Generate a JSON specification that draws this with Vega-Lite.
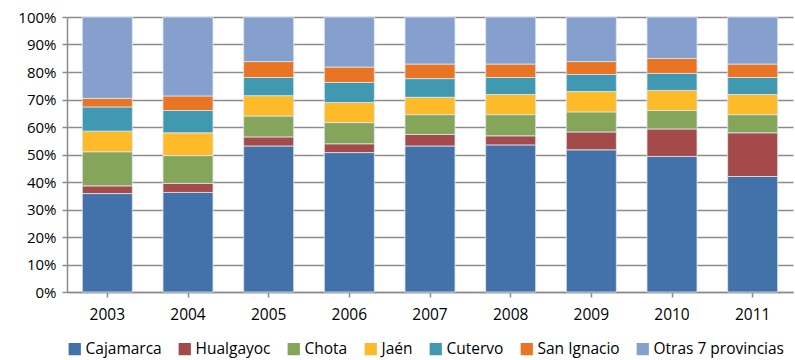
{
  "$schema": "https://vega.github.io/schema/vega-lite/v6.json",
  "width": 726,
  "height": 275,
  "autosize": {"type": "none"},
  "padding": {"left": 67, "top": 17, "right": 2, "bottom": 68},
  "background": "white",
  "config": {
    "view": {"stroke": null},
    "font": "Open Sans",
    "axis": {"labelFont": "Open Sans", "labelFontSize": 14, "labelColor": "#000"}
  },
  "data": {
    "values": [
      {"year": "2003", "provincia": "Cajamarca", "value": 35.8},
      {"year": "2003", "provincia": "Hualgayoc", "value": 2.8},
      {"year": "2003", "provincia": "Chota", "value": 12.4},
      {"year": "2003", "provincia": "Jaén", "value": 7.5},
      {"year": "2003", "provincia": "Cutervo", "value": 8.8},
      {"year": "2003", "provincia": "San Ignacio", "value": 3.1},
      {"year": "2003", "provincia": "Otras 7 provincias", "value": 29.6},
      {"year": "2004", "provincia": "Cajamarca", "value": 36.2},
      {"year": "2004", "provincia": "Hualgayoc", "value": 3.3},
      {"year": "2004", "provincia": "Chota", "value": 10.1},
      {"year": "2004", "provincia": "Jaén", "value": 8.3},
      {"year": "2004", "provincia": "Cutervo", "value": 8.1},
      {"year": "2004", "provincia": "San Ignacio", "value": 5.3},
      {"year": "2004", "provincia": "Otras 7 provincias", "value": 28.7},
      {"year": "2005", "provincia": "Cajamarca", "value": 53.1},
      {"year": "2005", "provincia": "Hualgayoc", "value": 3.3},
      {"year": "2005", "provincia": "Chota", "value": 7.6},
      {"year": "2005", "provincia": "Jaén", "value": 7.4},
      {"year": "2005", "provincia": "Cutervo", "value": 6.6},
      {"year": "2005", "provincia": "San Ignacio", "value": 5.8},
      {"year": "2005", "provincia": "Otras 7 provincias", "value": 16.2},
      {"year": "2006", "provincia": "Cajamarca", "value": 50.7},
      {"year": "2006", "provincia": "Hualgayoc", "value": 3.2},
      {"year": "2006", "provincia": "Chota", "value": 7.7},
      {"year": "2006", "provincia": "Jaén", "value": 7.3},
      {"year": "2006", "provincia": "Cutervo", "value": 7.3},
      {"year": "2006", "provincia": "San Ignacio", "value": 5.6},
      {"year": "2006", "provincia": "Otras 7 provincias", "value": 18.2},
      {"year": "2007", "provincia": "Cajamarca", "value": 53.1},
      {"year": "2007", "provincia": "Hualgayoc", "value": 4.2},
      {"year": "2007", "provincia": "Chota", "value": 7.2},
      {"year": "2007", "provincia": "Jaén", "value": 6.3},
      {"year": "2007", "provincia": "Cutervo", "value": 6.8},
      {"year": "2007", "provincia": "San Ignacio", "value": 5.3},
      {"year": "2007", "provincia": "Otras 7 provincias", "value": 17.1},
      {"year": "2008", "provincia": "Cajamarca", "value": 53.5},
      {"year": "2008", "provincia": "Hualgayoc", "value": 3.3},
      {"year": "2008", "provincia": "Chota", "value": 7.7},
      {"year": "2008", "provincia": "Jaén", "value": 7.3},
      {"year": "2008", "provincia": "Cutervo", "value": 6.2},
      {"year": "2008", "provincia": "San Ignacio", "value": 4.9},
      {"year": "2008", "provincia": "Otras 7 provincias", "value": 17.1},
      {"year": "2009", "provincia": "Cajamarca", "value": 51.7},
      {"year": "2009", "provincia": "Hualgayoc", "value": 6.5},
      {"year": "2009", "provincia": "Chota", "value": 7.3},
      {"year": "2009", "provincia": "Jaén", "value": 7.4},
      {"year": "2009", "provincia": "Cutervo", "value": 6.2},
      {"year": "2009", "provincia": "San Ignacio", "value": 4.7},
      {"year": "2009", "provincia": "Otras 7 provincias", "value": 16.2},
      {"year": "2010", "provincia": "Cajamarca", "value": 49.3},
      {"year": "2010", "provincia": "Hualgayoc", "value": 10.0},
      {"year": "2010", "provincia": "Chota", "value": 6.7},
      {"year": "2010", "provincia": "Jaén", "value": 7.3},
      {"year": "2010", "provincia": "Cutervo", "value": 6.2},
      {"year": "2010", "provincia": "San Ignacio", "value": 5.4},
      {"year": "2010", "provincia": "Otras 7 provincias", "value": 15.1},
      {"year": "2011", "provincia": "Cajamarca", "value": 42.0},
      {"year": "2011", "provincia": "Hualgayoc", "value": 15.9},
      {"year": "2011", "provincia": "Chota", "value": 6.6},
      {"year": "2011", "provincia": "Jaén", "value": 7.3},
      {"year": "2011", "provincia": "Cutervo", "value": 6.2},
      {"year": "2011", "provincia": "San Ignacio", "value": 4.9},
      {"year": "2011", "provincia": "Otras 7 provincias", "value": 17.1}
    ]
  },
  "transform": [
    {"calculate": "indexof(['Cajamarca','Hualgayoc','Chota','Jaén','Cutervo','San Ignacio','Otras 7 provincias'], datum.provincia)", "as": "stackOrder"}
  ],
  "mark": {"type": "bar", "stroke": "#dfe6f0", "strokeWidth": 0.8},
  "encoding": {
    "x": {
      "field": "year",
      "type": "ordinal",
      "scale": {"paddingInner": 0.38, "paddingOuter": 0.19},
      "axis": {
        "title": null,
        "labelAngle": 0,
        "labelPadding": 10,
        "labelFontSize": 15.5,
        "domainColor": "#8c8c8c",
        "domainWidth": 1.5,
        "tickColor": "#8c8c8c",
        "tickSize": 5,
        "tickWidth": 1.5,
        "grid": false
      }
    },
    "y": {
      "field": "value",
      "type": "quantitative",
      "stack": "normalize",
      "scale": {"domain": [0, 1], "nice": false},
      "axis": {
        "title": null,
        "format": ".0%",
        "values": [0, 0.1, 0.2, 0.3, 0.4, 0.5, 0.6, 0.7, 0.8, 0.9, 1],
        "labelFontSize": 15,
        "labelPadding": 6,
        "grid": true,
        "gridColor": "#8c8c8c",
        "gridWidth": 1.5,
        "domainColor": "#8c8c8c",
        "domainWidth": 1.5,
        "tickColor": "#8c8c8c",
        "tickSize": 5,
        "tickWidth": 1.5
      }
    },
    "order": {"field": "stackOrder", "type": "quantitative", "sort": "ascending"},
    "color": {
      "field": "provincia",
      "type": "nominal",
      "sort": ["Cajamarca", "Hualgayoc", "Chota", "Jaén", "Cutervo", "San Ignacio", "Otras 7 provincias"],
      "scale": {
        "domain": ["Cajamarca", "Hualgayoc", "Chota", "Jaén", "Cutervo", "San Ignacio", "Otras 7 provincias"],
        "range": ["#4372aa", "#a44a4a", "#84a55a", "#fdbb2a", "#4099b0", "#e97424", "#86a0cd"]
      },
      "legend": {
        "title": null,
        "orient": "bottom",
        "direction": "horizontal",
        "offset": 18,
        "symbolType": "square",
        "symbolSize": 150,
        "symbolStrokeWidth": 0,
        "labelFontSize": 15.5,
        "labelFont": "Open Sans",
        "labelColor": "#000",
        "labelOffset": 3,
        "columnPadding": 15,
        "symbolOffset": 0
      }
    }
  }
}
